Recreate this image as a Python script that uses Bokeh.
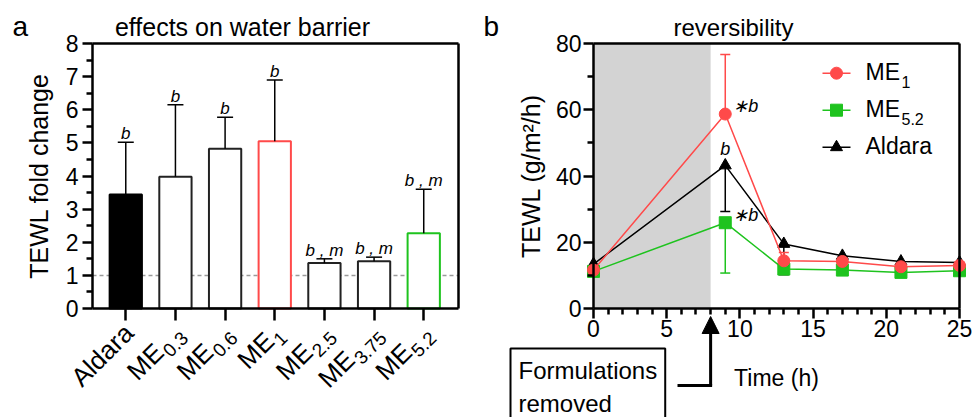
import math
from bokeh.plotting import figure
from bokeh.layouts import row
from bokeh.models import (Range1d, FixedTicker, Label, LabelSet, ColumnDataSource,
                          Arrow, NormalHead, BoxAnnotation, LinearAxis)
from bokeh.core.properties import value
from bokeh.embed import file_html
from bokeh.resources import INLINE

FONT = "Liberation Sans"

# ---------------- data: panel a ----------------
bar_names = ["Aldara", "ME", "ME", "ME", "ME", "ME", "ME"]
bar_subs = ["", "0.3", "0.6", "1", "2.5", "3.75", "5.2"]
fold_change = [3.44, 3.98, 4.82, 5.05, 1.37, 1.43, 2.27]
fold_sd = [1.58, 2.17, 0.95, 1.85, 0.13, 0.12, 1.33]
fold_sig = ["b", "b", "b", "b", "b , m", "b , m", "b , m"]
a_yticks = [0, 1, 2, 3, 4, 5, 6, 7, 8]
a_yminor = [0.5, 1.5, 2.5, 3.5, 4.5, 5.5, 6.5, 7.5]
baseline_fold = 1

# ---------------- data: panel b ----------------
time_h = [0, 9, 13, 17, 21, 25]
tewl_me1 = [11.6, 58.7, 14.4, 14.2, 12.6, 13.0]
tewl_me1_sd = [1.0, 18.0, 2.5, 1.0, 1.0, 1.0]      # drawn upward
tewl_me52 = [11.2, 25.9, 11.9, 11.6, 10.9, 11.4]
tewl_me52_sd = [1.0, 15.2, 1.5, 1.0, 1.0, 1.0]     # drawn downward
tewl_aldara = [13.4, 43.2, 19.5, 15.9, 14.2, 13.9]
tewl_aldara_sd = [1.0, 13.9, 9.3, 1.0, 1.0, 1.0]   # drawn downward
sig_text = ["∗b", "b", "∗b"]
removal_time = 8
b_xticks = [0, 5, 10, 15, 20, 25]
b_xminor = [t for t in range(0, 26) if t % 5]
b_yticks = [0, 20, 40, 60, 80]
b_yminor = [10, 30, 50, 70]

RED = "#ff4a4a"
GREEN = "#1ec31e"
BLACK = "#000000"
TICK_SIZE = "23px"
LABEL_SIZE = "25px"


class Geo:
    """maps figure pixel positions to data, given where the plot box sits"""
    def __init__(self, W, H, L, R, T, B, xa, xb, ya, yb):
        self.W, self.H = W, H
        self.xa, self.xb, self.ya, self.yb = xa, xb, ya, yb
        self.ppx = (R - L) / (xb - xa)
        self.ppy = (B - T) / (yb - ya)
        self.x0 = xa - L / self.ppx
        self.x1 = self.x0 + W / self.ppx
        self.y1 = yb + T / self.ppy
        self.y0 = self.y1 - H / self.ppy

    def d(self, px, py):
        return self.x0 + px / self.ppx, self.y1 - py / self.ppy

    def px(self, x, y):
        return (x - self.x0) * self.ppx, (self.y1 - y) * self.ppy


def style_axis(ax):
    ax.axis_line_width = 2.5
    ax.major_tick_line_width = 2.5
    ax.minor_tick_line_width = 2.5
    ax.major_tick_in = 0
    ax.minor_tick_in = 0
    ax.major_tick_out = 10
    ax.minor_tick_out = 6
    ax.major_label_text_font = FONT
    ax.major_label_text_font_size = TICK_SIZE
    ax.major_label_text_color = "black"
    ax.axis_label_text_font = FONT
    ax.axis_label_text_font_size = LABEL_SIZE
    ax.axis_label_text_font_style = "normal"
    ax.axis_label_text_color = "black"


def make_fig(g):
    p = figure(width=g.W, height=g.H, x_range=Range1d(g.x0, g.x1), y_range=Range1d(g.y0, g.y1),
               min_border=0, min_border_left=0, min_border_right=0, min_border_top=0,
               min_border_bottom=0, output_backend="svg", toolbar_location=None)
    p.outline_line_color = None
    p.grid.visible = False
    bottom = p.below[0]
    left = p.left[0]
    bottom.fixed_location = g.ya
    left.fixed_location = g.xa
    bottom.bounds = (g.xa, g.xb)
    left.bounds = (g.ya, g.yb)
    style_axis(bottom)
    style_axis(left)
    # top and right edges of the box
    for side, loc, bnds in (("above", g.yb, (g.xa, g.xb)), ("right", g.xb, (g.ya, g.yb))):
        edge = LinearAxis(fixed_location=loc, bounds=bnds, ticker=FixedTicker(ticks=[]),
                          axis_line_width=2.5, major_tick_out=0, minor_tick_out=0,
                          major_label_text_color=None)
        p.add_layout(edge, side)
    return p, bottom, left


def put_label(p, x, y, text, size, align="left", italic=False):
    """text placed by its alphabetic baseline"""
    src = ColumnDataSource(dict(x=x, y=y, t=text, a=align if isinstance(align, list) else [align] * len(x)))
    p.add_layout(LabelSet(x="x", y="y", text="t", source=src, text_align="a",
                          text_baseline="alphabetic", text_font=value(FONT),
                          text_font_size=f"{size}px",
                          text_font_style="italic" if italic else "normal", text_color="black"))


def put_rot(p, x, y, text, size):
    p.text(x=x, y=y, text=text, text_font=value(FONT), text_font_size=f"{size}px",
           text_align="right", text_baseline="middle", angle=45, angle_units="deg",
           text_color="black")


# =============== panel a ===============
ga = Geo(480, 417, 92, 458, 43, 308, -0.67, 6.70, 0, 8)
pa, a_bottom, a_left = make_fig(ga)
idx = list(range(len(fold_change)))
a_bottom.ticker = FixedTicker(ticks=idx, minor_ticks=[])
a_bottom.major_tick_out = 12
a_bottom.major_label_text_color = None
a_left.ticker = FixedTicker(ticks=a_yticks, minor_ticks=a_yminor)
a_left.major_label_standoff = 4
a_left.axis_label = "TEWL fold change"
a_left.axis_label_standoff = 10

fills = ["black"] + ["white"] * 6
lines = ["black", "#222222", "#222222", RED, "#222222", "#222222", GREEN]
tops = [v + e for v, e in zip(fold_change, fold_sd)]
src_a = ColumnDataSource(dict(x=idx, top=fold_change, fill=fills, line=lines, etop=tops))
pa.segment(x0=ga.xa, y0=baseline_fold, x1=ga.xb, y1=baseline_fold, line_color="#9a9a9a",
           line_width=1.5, line_dash="4 3")
pa.vbar(x="x", top="top", width=0.65, bottom=0, fill_color="fill", line_color="line",
        line_width=2, source=src_a)
pa.segment(x0="x", y0="top", x1="x", y1="etop", line_color="black", line_width=1.5, source=src_a)
cap = 8 / ga.ppx
pa.segment(x0=[i - cap for i in idx], y0=tops, x1=[i + cap for i in idx], y1=tops,
           line_color="black", line_width=1.5)

put_label(pa, idx, [t + 3 / ga.ppy for t in tops], fold_sig, 17, align="center", italic=True)

# rotated category labels with subscripts
MAIN_SIZE, SUB_SIZE = 26, 19
c45 = math.cos(math.radians(45))
ux, uy = c45, -c45
vx, vy = c45, c45
M_DX, M_DY = 3, 20
SUB_DROP = 9
mxs, mys, mts, sxs, sys_, sts = [], [], [], [], [], []
for i, (nm, sb) in enumerate(zip(bar_names, bar_subs)):
    tx, ty = ga.px(i, 0)
    if sb:
        w = sum(0.278 if ch == "." else 0.556 for ch in sb) * SUB_SIZE
        dx, dy = ga.d(tx + M_DX + SUB_DROP * vx, ty + M_DY + SUB_DROP * vy)
        sxs.append(dx); sys_.append(dy); sts.append(sb)
        dx, dy = ga.d(tx + M_DX - (w + 1) * ux, ty + M_DY - (w + 1) * uy)
    else:
        dx, dy = ga.d(tx + M_DX, ty + M_DY)
    mxs.append(dx); mys.append(dy); mts.append(nm)
put_rot(pa, mxs, mys, mts, MAIN_SIZE)
put_rot(pa, sxs, sys_, sts, SUB_SIZE)

tx_, ty_ = ga.d(242, 35)
put_label(pa, [tx_], [ty_], ["effects on water barrier"], 25, align="center")
lx_, ly_ = ga.d(12, 35)
put_label(pa, [lx_], [ly_], ["a"], 28)

# =============== panel b ===============
gb = Geo(493, 417, 113, 479, 43, 308, 0, 25, 0, 80)
pb, b_bottom, b_left = make_fig(gb)
b_bottom.ticker = FixedTicker(ticks=b_xticks, minor_ticks=b_xminor)
b_left.ticker = FixedTicker(ticks=b_yticks, minor_ticks=b_yminor)
b_bottom.major_label_standoff = 1
b_left.major_label_standoff = 2
b_bottom.axis_label = "Time (h)"
b_bottom.axis_label_text_font_size = "23px"
b_bottom.axis_label_standoff = 25
b_left.axis_label = "TEWL (g/m²/h)"
b_left.axis_label_standoff = 8

pb.add_layout(BoxAnnotation(left=0, right=removal_time, bottom=gb.ya, top=gb.yb,
                            fill_color="#d3d3d3", fill_alpha=1, line_color=None, level="underlay"))

bcap = 5 / gb.ppx


def series(p, y, sd, up, color, marker, size):
    ends = [v + e if up else v - e for v, e in zip(y, sd)]
    p.segment(x0=time_h, y0=y, x1=time_h, y1=ends, line_color=color, line_width=1.5)
    p.segment(x0=[t - bcap for t in time_h], y0=ends, x1=[t + bcap for t in time_h], y1=ends,
              line_color=color, line_width=1.5)
    p.line(time_h, y, line_color=color, line_width=1.5)
    p.scatter(time_h, y, marker=marker, size=size, fill_color=color, line_color=color)


series(pb, tewl_aldara, tewl_aldara_sd, False, BLACK, "triangle", 12)
series(pb, tewl_me52, tewl_me52_sd, False, GREEN, "square", 12)
series(pb, tewl_me1, tewl_me1_sd, True, RED, "circle", 12)

# significance labels at the peak
sig_x, sig_y = [], []
for val, (fx, fy) in [(tewl_me1[1], (8, 2)), (tewl_aldara[1], (0, 10)), (tewl_me52[1], (8, 2))]:
    sig_x.append(time_h[1] + fx / gb.ppx)
    sig_y.append(val + fy / gb.ppy)
put_label(pb, sig_x, sig_y, sig_text, 18, align=["left", "center", "left"], italic=True)

# legend (manual, to allow subscripts)
leg = [("ME", "1", RED, "circle"), ("ME", "5.2", GREEN, "square"), ("Aldara", "", BLACK, "triangle")]
LEG_X, LEG_Y0, LEG_DY = 342, 72.7, 37
for k, (nm, sb, col, mk) in enumerate(leg):
    x0, rowy = gb.d(LEG_X, LEG_Y0 + k * LEG_DY)
    x1, _ = gb.d(LEG_X + 28, 0)
    pb.segment(x0=[x0], y0=[rowy], x1=[x1], y1=[rowy], line_color=col, line_width=1.5)
    pb.scatter([(x0 + x1) / 2], [rowy], marker=mk, size=12, fill_color=col, line_color=col)
    tx0, base = gb.d(LEG_X + 43, LEG_Y0 + k * LEG_DY + 7)
    put_label(pb, [tx0], [base], [nm], 23)
    if sb:
        sx0, sbase = gb.d(LEG_X + 43 + 36, LEG_Y0 + k * LEG_DY + 15)
        put_label(pb, [sx0], [sbase], [sb], 16)

tx_, ty_ = gb.d(253, 35)
put_label(pb, [tx_], [ty_], ["reversibility"], 24, align="center")
lx_, ly_ = gb.d(3, 35)
put_label(pb, [lx_], [ly_], ["b"], 28)

# "Formulations removed" box and arrow
bx_, by_ = gb.d(30, 348)
pb.add_layout(Label(x=bx_, y=by_, text="Formulations\nremoved", text_align="left",
                    text_baseline="top", text_font=FONT, text_font_size="24px",
                    text_color="black", text_line_height=1.25, border_line_color="black",
                    border_line_width=2, background_fill_color="white", padding=8))
ax0, ay0 = gb.d(197, 385)
_, tip_y = gb.d(0, 316)
pb.add_layout(Arrow(end=None, start=None, x_start=ax0, y_start=ay0,
                    x_end=removal_time + 1.5 / gb.ppx, y_end=ay0, line_width=3, line_color="black"))
pb.add_layout(Arrow(end=NormalHead(size=17, fill_color="black", line_color="black"), start=None,
                    x_start=removal_time, y_start=ay0, x_end=removal_time, y_end=tip_y,
                    line_width=3, line_color="black"))

page = row(pa, pb)
open("out.html", "w").write(file_html(page, INLINE))
